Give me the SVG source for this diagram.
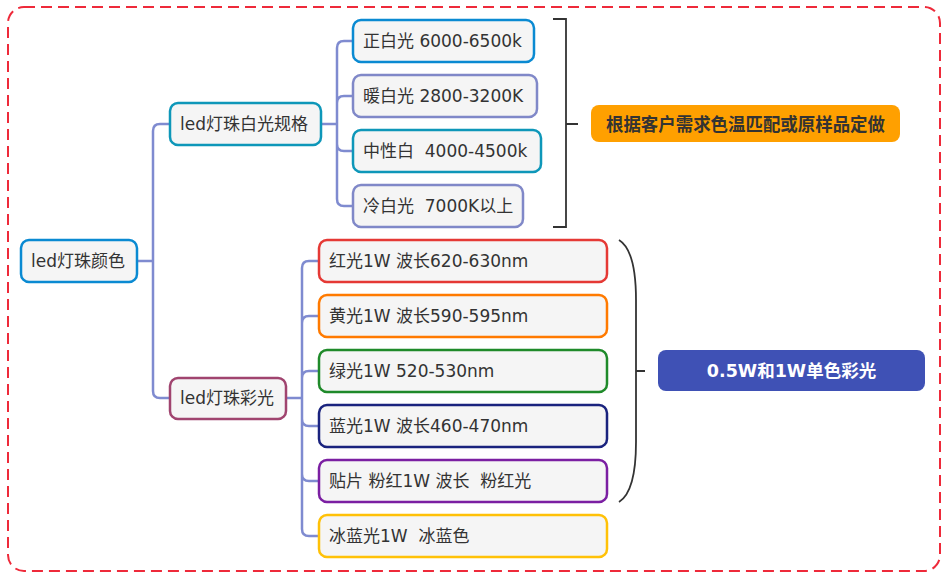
<svg xmlns="http://www.w3.org/2000/svg" width="946" height="578" viewBox="0 0 946 578">
<style>
.t{font-family:"DejaVu Sans","Noto Sans CJK SC",sans-serif;font-size:17px;fill:#333;dominant-baseline:central}
.b{fill:#f5f5f5;stroke-width:2.5}
.c{fill:none;stroke:#7f8bd0;stroke-width:2.5;stroke-linecap:round}
.k{fill:none;stroke:#333;stroke-width:1.8}
.s{font-family:"DejaVu Sans","Noto Sans CJK SC",sans-serif;font-weight:bold;dominant-baseline:central;text-anchor:middle}
</style>
<rect x="8" y="7" width="932" height="564" rx="16" fill="#fff" stroke="#ee2a3a" stroke-width="2" stroke-dasharray="11,6"/>
<g id="connectors">
<path class="c" d="M137,261H153M153,261V131Q153,124 160,124H170M153,261V391Q153,398 160,398H170"/>
<path class="c" d="M321,124H337M337,124V48Q337,41 344,41H353M337,124V103Q337,96 344,96H353M337,124V144Q337,151 344,151H353M337,124V199Q337,206 344,206H353"/>
<path class="c" d="M286,398H302M302,398V268Q302,261 309,261H319M302,398V323Q302,316 309,316H319M302,398V378Q302,371 309,371H319M302,398V419Q302,426 309,426H319M302,398V474Q302,481 309,481H319M302,398V529Q302,536 309,536H319"/>
<path class="k" d="M553,19H566V227H553M566,124H578"/>
<path class="k" stroke-width="2" d="M619,240C632,248 636,270 636,300V442C636,472 632,494 619,502M636,371H645"/>
</g>
<g id="root"><rect class="b" x="21" y="240" width="116" height="42" rx="8" stroke="#0a8ad2"/><text class="t" x="31" y="261">led灯珠颜色</text></g>
<g id="white"><rect class="b" x="170" y="103" width="151" height="42" rx="8" stroke="#0e97b9"/><text class="t" x="180" y="124">led灯珠白光规格</text></g>
<g id="color"><rect class="b" x="170" y="378" width="116" height="41" rx="8" stroke="#a0446f"/><text class="t" x="180" y="398">led灯珠彩光</text></g>
<g id="w1"><rect class="b" x="353" y="20" width="181" height="42" rx="8" stroke="#0a8ad2"/><text class="t" x="363" y="41">正白光 6000-6500k</text></g>
<g id="w2"><rect class="b" x="353" y="75" width="184" height="42" rx="8" stroke="#8088c8"/><text class="t" x="363" y="96">暖白光 2800-3200K</text></g>
<g id="w3"><rect class="b" x="353" y="130" width="188" height="42" rx="8" stroke="#0e97b9"/><text class="t" x="363" y="151" xml:space="preserve">中性白  4000-4500k</text></g>
<g id="w4"><rect class="b" x="353" y="185" width="170" height="42" rx="8" stroke="#8088c8"/><text class="t" x="363" y="206" xml:space="preserve">冷白光  7000K以上</text></g>
<g id="c1"><rect class="b" x="319" y="240" width="288" height="42" rx="8" stroke="#e53935"/><text class="t" x="329" y="261">红光1W 波长620-630nm</text></g>
<g id="c2"><rect class="b" x="319" y="295" width="288" height="42" rx="8" stroke="#ff7a00"/><text class="t" x="329" y="316">黄光1W 波长590-595nm</text></g>
<g id="c3"><rect class="b" x="319" y="350" width="288" height="42" rx="8" stroke="#1f8a2a"/><text class="t" x="329" y="371">绿光1W 520-530nm</text></g>
<g id="c4"><rect class="b" x="319" y="405" width="288" height="42" rx="8" stroke="#1a237e"/><text class="t" x="329" y="426">蓝光1W 波长460-470nm</text></g>
<g id="c5"><rect class="b" x="319" y="460" width="288" height="42" rx="8" stroke="#7b1fa2"/><text class="t" x="329" y="481" xml:space="preserve">贴片 粉红1W 波长  粉红光</text></g>
<g id="c6"><rect class="b" x="319" y="515" width="288" height="42" rx="8" stroke="#ffc107"/><text class="t" x="329" y="536" xml:space="preserve">冰蓝光1W  冰蓝色</text></g>
<g id="sum1"><rect x="591" y="105" width="309" height="37" rx="8" fill="#ffa000"/><text class="s" x="745.5" y="124" font-size="18.5" fill="#333" textLength="279" lengthAdjust="spacingAndGlyphs">根据客户需求色温匹配或原样品定做</text></g>
<g id="sum2"><rect x="658" y="350" width="267" height="41" rx="8" fill="#3f51b5"/><text class="s" x="791.5" y="371" font-size="17.5" fill="#fff">0.5W和1W单色彩光</text></g>
</svg>
